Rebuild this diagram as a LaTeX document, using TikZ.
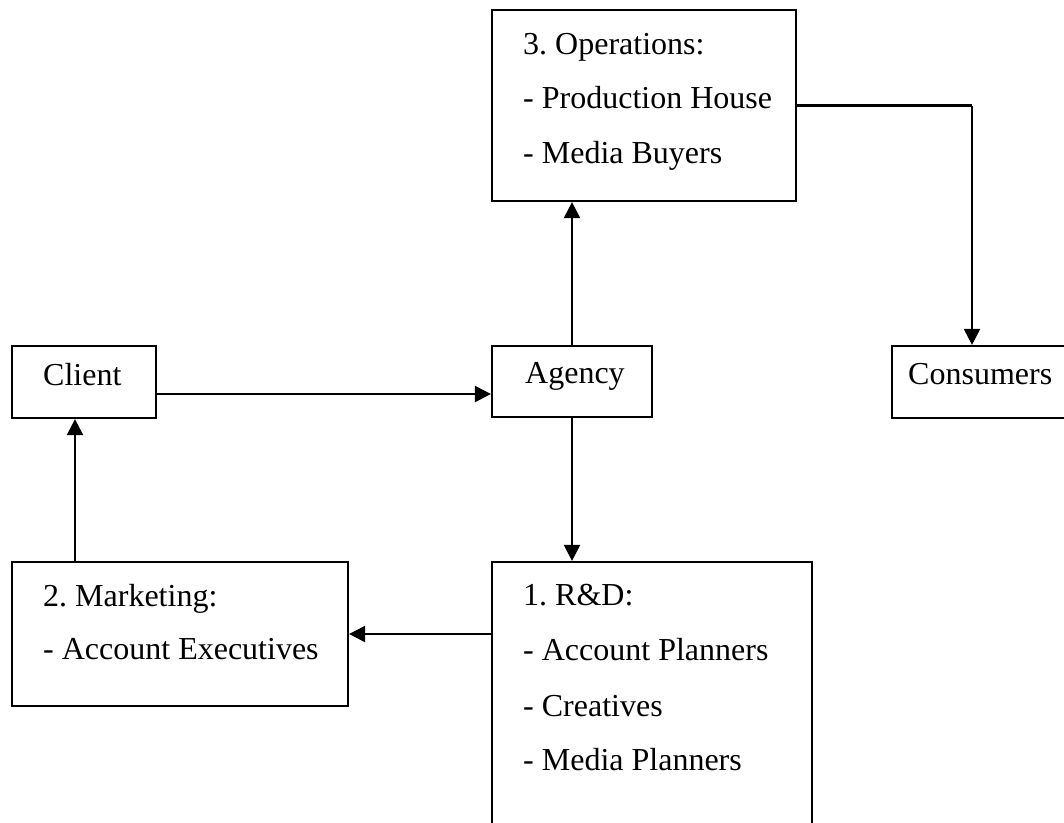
\documentclass[tikz,border=0pt]{standalone}
\usepackage{fontspec}
\setmainfont{Liberation Serif}
\usetikzlibrary{arrows.meta,calc}
\begin{document}
\frenchspacing
\begin{tikzpicture}[x=1pt,y=-1pt,
  box/.style={draw=black, line width=2.2pt, rectangle, inner sep=0pt, fill=none},
  lbl/.style={anchor=base west, inner sep=0pt, font=\fontsize{32}{38}\selectfont},
  arr/.style={draw=black, line width=2.2pt, -{Triangle[length=16pt,width=16pt]}},
  ln/.style={draw=black, line width=2.2pt}]
\fill[white] (0,0) rectangle (1064,822);
\clip (0,0) rectangle (1064,822);
% boxes
\node[box, minimum width=304pt, minimum height=191pt] (ops) at (644,105.5) {};
\node[box, minimum width=144pt, minimum height=72pt] (client) at (84,382) {};
\node[box, minimum width=160pt, minimum height=71pt] (agency) at (572,381.5) {};
\node[box, minimum width=190pt, minimum height=72pt] (cons) at (987,382) {};
\node[box, minimum width=336pt, minimum height=144pt] (mkt) at (180,634) {};
\node[box, minimum width=320pt, minimum height=300pt] (rd) at (652,712) {};
% texts
\node[lbl] (o1) at (523,54) {3. Operations:};
\node[lbl] (o2) at (523,108.5) {- Production House};
\node[lbl] (o3) at (523,163) {- Media Buyers};
\node[lbl] (tc) at (43,385) {Client};
\node[lbl] (ta) at (525,383) {Agency};
\node[lbl] (tk) at (908,384) {Consumers};
\node[lbl] (m1) at (43,606) {2. Marketing:};
\node[lbl] (m2) at (43,659) {- Account Executives};
\node[lbl] (r1) at (523,605) {1. R\&D:};
\node[lbl] (r2) at (523,660) {- Account Planners};
\node[lbl] (r3) at (523,716) {- Creatives};
\node[lbl] (r4) at (523,770) {- Media Planners};
% helper coordinates
\coordinate (cx) at (972,0);
\coordinate (mx) at (75,0);
\coordinate (cy) at (0,394);
% connectors
\draw[ln] (ops.east) -| (cx |- ops.east) coordinate (bend);
\draw[arr] (bend) -- (cx |- cons.north);
\draw[arr] (client.east |- cy) -- (agency.west |- cy);
\draw[arr] (agency.north) -- (agency.north |- ops.south);
\draw[arr] (agency.south) -- (agency.south |- rd.north);
\draw[arr] (rd.west |- mkt.east) -- (mkt.east);
\draw[arr] (mx |- mkt.north) -- (mx |- client.south);
\end{tikzpicture}
\end{document}
